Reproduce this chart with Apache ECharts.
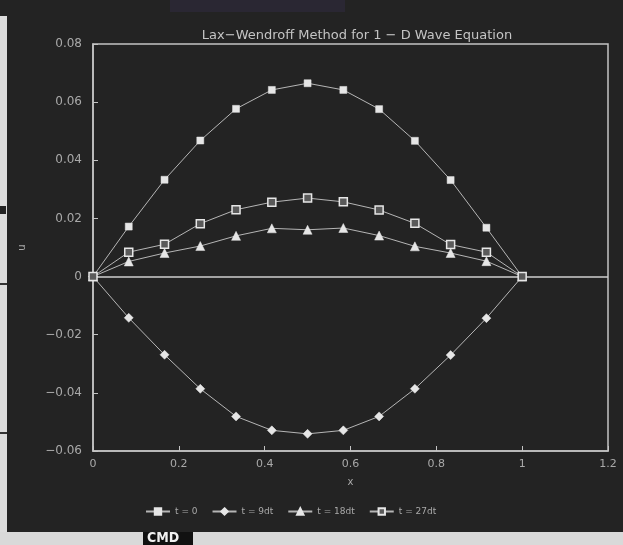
<!DOCTYPE html>
<html>
<head>
<meta charset="utf-8">
<script src="https://cdn.jsdelivr.net/npm/echarts@6/dist/echarts.min.js"></script>
<style>
  html, body { margin: 0; padding: 0; background: #d8d8d8; }
  #chart { width: 623px; height: 545px; }
</style>
</head>
<body>
<div id="chart"></div>
<script>
// ---- data ----
const chartTitle = 'Lax\u2212Wendroff Method for 1 \u2212 D Wave Equation';
const xValues = [0, 0.0833, 0.1667, 0.25, 0.3333, 0.4167, 0.5, 0.5833, 0.6667, 0.75, 0.8333, 0.9167, 1];
const seriesNames = ['t = 0', 't = 9dt', 't = 18dt', 't = 27dt'];
const uT0  = [0, 0.0172, 0.0333, 0.0468, 0.0577, 0.0642, 0.0665, 0.0642, 0.0576, 0.0467, 0.0332, 0.0168, 0];
const uT9  = [0, -0.0142, -0.0269, -0.0386, -0.0481, -0.0529, -0.0541, -0.0529, -0.0481, -0.0386, -0.0270, -0.0143, 0];
const uT18 = [0, 0.0052, 0.0081, 0.0105, 0.0140, 0.0166, 0.0161, 0.0167, 0.0141, 0.0104, 0.0081, 0.0053, 0];
const uT27 = [0, 0.0084, 0.0111, 0.0182, 0.0230, 0.0256, 0.0270, 0.0257, 0.0229, 0.0183, 0.0110, 0.0084, 0];
const xTicks = { min: 0, max: 1.2, interval: 0.2 };
const yTicks = { min: -0.06, max: 0.08, interval: 0.02 };

// ---- styling ----
const FG = '#cfcfcf';
const TXT = '#a9a9a9';
const FONT = 'DejaVu Sans';

function pairs(ys) { return ys.map((y, i) => [xValues[i], y]); }

function mkSeries(name, ys, symbol, size, filled, extra) {
  return Object.assign({
    name: name,
    type: 'line',
    data: pairs(ys),
    symbol: symbol,
    symbolSize: size,
    showAllSymbol: true,
    lineStyle: { color: FG, width: 1, opacity: 0.85 },
    itemStyle: filled
      ? { color: '#e6e6e6', borderColor: '#e6e6e6', borderWidth: 0.5 }
      : { color: '#5a5a5a', borderColor: '#e6e6e6', borderWidth: 1.5 },
    emphasis: { disabled: true },
    animation: false
  }, extra || {});
}

const chart = echarts.init(document.getElementById('chart'), null, { renderer: 'canvas' });

chart.setOption({
  backgroundColor: '#232323',
  animation: false,
  title: {
    text: chartTitle,
    left: 352,
    top: 24,
    textAlign: 'center',
    textStyle: { color: '#c4c4c4', fontFamily: FONT, fontSize: 13, fontWeight: 'normal' }
  },
  grid: { left: 93, right: 15, top: 44, bottom: 94, show: true, borderColor: '#c4c4c4', borderWidth: 1.5, backgroundColor: 'transparent' },
  legend: {
    left: 140,
    top: 502,
    itemWidth: 24,
    itemHeight: 8,
    itemGap: 14,
    textStyle: { color: TXT, fontFamily: FONT, fontSize: 9 },
    data: seriesNames
  },
  xAxis: {
    type: 'value',
    min: xTicks.min, max: xTicks.max, interval: xTicks.interval,
    name: 'x',
    nameLocation: 'middle',
    nameGap: 26,
    nameTextStyle: { color: TXT, fontFamily: FONT, fontSize: 10 },
    axisLine: { show: true, onZero: false, lineStyle: { color: '#c4c4c4', width: 1.5 } },
    axisTick: { show: true, inside: true, length: 5, lineStyle: { color: '#c4c4c4' } },
    axisLabel: { color: TXT, fontFamily: FONT, fontSize: 11, margin: 8 },
    splitLine: { show: false }
  },
  yAxis: {
    type: 'value',
    min: yTicks.min, max: yTicks.max, interval: yTicks.interval,
    name: 'u',
    nameLocation: 'middle',
    nameRotate: 90,
    nameGap: 66,
    nameTextStyle: { color: TXT, fontFamily: FONT, fontSize: 10 },
    axisLine: { show: true, onZero: false, lineStyle: { color: '#c4c4c4', width: 1.5 } },
    axisTick: { show: true, inside: true, length: 5, lineStyle: { color: '#c4c4c4' } },
    axisLabel: {
      color: TXT, fontFamily: FONT, fontSize: 12, margin: 11,
      formatter: function (v) {
        if (Math.abs(v) < 1e-9) return '0';
        return (v < 0 ? '\u2212' : '') + Math.abs(v).toFixed(2);
      }
    },
    splitLine: { show: false }
  },
  series: [
    mkSeries(seriesNames[0], uT0, 'rect', 7, true, {
      markLine: {
        silent: true,
        symbol: 'none',
        label: { show: false },
        lineStyle: { color: '#cfcfcf', width: 1.5, type: 'solid' },
        data: [{ yAxis: 0 }],
        animation: false
      },
      z: 3
    }),
    mkSeries(seriesNames[1], uT9, 'diamond', 9, true, { z: 4 }),
    mkSeries(seriesNames[2], uT18, 'triangle', 9, true, { z: 5 }),
    mkSeries(seriesNames[3], uT27, 'rect', 8, false, { z: 6 })
  ],
  graphic: [
    { type: 'rect', left: 0, top: 16, shape: { width: 7, height: 516 }, style: { fill: '#dcdcdc' }, silent: true },
    { type: 'rect', left: 0, top: 206, shape: { width: 6, height: 8 }, style: { fill: '#222' }, silent: true },
    { type: 'rect', left: 0, top: 283, shape: { width: 7, height: 2 }, style: { fill: '#333' }, silent: true },
    { type: 'rect', left: 0, top: 432, shape: { width: 7, height: 2 }, style: { fill: '#333' }, silent: true },
    { type: 'rect', left: 170, top: 0, shape: { width: 175, height: 12 }, style: { fill: '#2a2733' }, silent: true },
    { type: 'rect', left: 0, top: 532, shape: { width: 623, height: 13 }, style: { fill: '#d9d9d9' }, silent: true },
    { type: 'rect', left: 143, top: 532, shape: { width: 50, height: 13 }, style: { fill: '#111' }, silent: true },
    { type: 'text', left: 147, top: 531, style: { text: 'CMD', fill: '#f0f0f0', font: 'bold 14px "DejaVu Sans Condensed", "Liberation Sans Narrow", sans-serif' }, silent: true }
  ]
});
</script>
</body>
</html>
